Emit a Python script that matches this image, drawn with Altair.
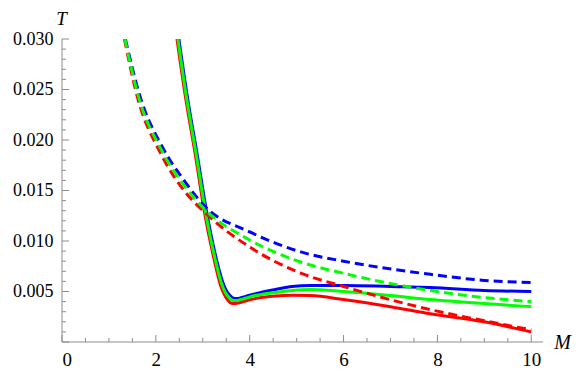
import altair as alt
import pandas as pd

# ---- data ----
M_solid_red = [2.45, 2.64, 2.85, 3.03, 3.24, 3.38, 3.46, 3.54, 3.61, 3.67, 3.75, 3.85, 4.00, 4.15, 4.30, 4.55, 4.90, 5.30, 6.00, 7.00, 7.85, 9.00, 10.0]
T_solid_red = [0.0300, 0.0240, 0.0183, 0.0130, 0.0082, 0.0056, 0.0047, 0.0041, 0.00383, 0.0038, 0.00385, 0.00398, 0.00418, 0.00433, 0.00443, 0.00455, 0.00462, 0.0046, 0.0042, 0.0035, 0.0028, 0.0020, 0.0010]

M_solid_green = [2.47, 2.66, 2.87, 3.05, 3.26, 3.40, 3.48, 3.56, 3.63, 3.69, 3.77, 3.87, 4.00, 4.15, 4.30, 4.55, 4.90, 5.30, 6.00, 7.00, 7.85, 9.00, 10.0]
T_solid_green = [0.0300, 0.0240, 0.0183, 0.0131, 0.0083, 0.0058, 0.0049, 0.0044, 0.00414, 0.0041, 0.00415, 0.00428, 0.00446, 0.00463, 0.00476, 0.0049, 0.0051, 0.0052, 0.0050, 0.0046, 0.0042, 0.0038, 0.0035]

M_solid_blue = [2.49, 2.68, 2.89, 3.07, 3.28, 3.42, 3.50, 3.58, 3.65, 3.72, 3.80, 3.90, 4.00, 4.15, 4.30, 4.55, 4.90, 5.30, 6.00, 7.00, 7.85, 9.00, 10.0]
T_solid_blue = [0.0300, 0.0240, 0.0183, 0.0132, 0.0084, 0.0060, 0.0051, 0.0046, 0.00435, 0.0043, 0.00436, 0.00449, 0.00463, 0.0048, 0.00497, 0.0052, 0.0055, 0.0056, 0.0056, 0.0055, 0.0054, 0.0051, 0.0050]

M_dash_red = [1.33, 1.61, 2.10, 2.60, 3.05, 4.00, 5.10, 6.00, 7.85, 9.00, 10.0]
T_dash_red = [0.0300, 0.0242, 0.0187, 0.0150, 0.0128, 0.0094, 0.0068, 0.0055, 0.0032, 0.0021, 0.0012]

M_dash_green = [1.34, 1.63, 2.12, 2.60, 3.05, 4.00, 5.10, 6.00, 7.85, 9.00, 10.0]
T_dash_green = [0.0300, 0.0243, 0.0190, 0.0155, 0.0131, 0.0101, 0.0079, 0.0068, 0.0051, 0.0044, 0.0040]

M_dash_blue = [1.35, 1.65, 2.15, 2.60, 3.05, 4.00, 5.18, 6.00, 7.85, 9.00, 10.0]
T_dash_blue = [0.0300, 0.0245, 0.0192, 0.0160, 0.0134, 0.0109, 0.0088, 0.0080, 0.0067, 0.0061, 0.0059]

x_major = [0, 2, 4, 6, 8, 10]
x_minor = [0.5, 1, 1.5, 2.5, 3, 3.5, 4.5, 5, 5.5, 6.5, 7, 7.5, 8.5, 9, 9.5]
y_major = [0.0, 0.005, 0.010, 0.015, 0.020, 0.025, 0.030]
y_labels = [0.005, 0.010, 0.015, 0.020, 0.025, 0.030]
y_minor = [0.001, 0.002, 0.003, 0.004, 0.006, 0.007, 0.008, 0.009,
           0.011, 0.012, 0.013, 0.014, 0.016, 0.017, 0.018, 0.019,
           0.021, 0.022, 0.023, 0.024, 0.026, 0.027, 0.028, 0.029]

W, H = 481, 303
AX = "#8c8c8c"
FONT = "Liberation Serif"

xs = alt.Scale(domain=[0, 10.25], nice=False, zero=False)
ys = alt.Scale(domain=[0, 0.030], nice=False, zero=False)

x_axis = alt.Axis(
    values=x_major, format="d", domain=False, ticks=False, grid=False,
    labelFont=FONT, labelFontSize=19, labelColor="black", labelPadding=8,
    title="M", titleFont=FONT, titleFontStyle="italic", titleFontWeight="normal",
    titleFontSize=20, titleColor="black", titleAngle=0, titleAlign="center",
    titleBaseline="middle", titleX=W + 19, titleY=0)
y_axis = alt.Axis(
    values=y_labels, format=".3f", domain=False, ticks=False, grid=False,
    labelFont=FONT, labelFontSize=18, labelColor="black", labelPadding=9,
    title="T", titleFont=FONT, titleFontStyle="italic", titleFontWeight="normal",
    titleFontSize=19, titleColor="black", titleAngle=0, titleAlign="center",
    titleBaseline="middle", titleX=-1, titleY=-21)


def X():
    return alt.X("M:Q", scale=xs, axis=x_axis)


def Y():
    return alt.Y("T:Q", scale=ys, axis=y_axis)


def curve(M, T, color, dashed):
    df = pd.DataFrame({"M": M, "T": T})
    kw = dict(color=color, strokeWidth=3, interpolate="monotone", clip=True)
    if dashed:
        kw["strokeDash"] = [9, 5]
    return alt.Chart(df).mark_line(**kw).encode(x=X(), y=Y())


x_axis_line = alt.Chart(pd.DataFrame({"a": [0]})).mark_rule(color=AX, strokeWidth=1).encode(
    x=alt.value(0), x2=alt.value(W), y=alt.value(H))
y_axis_line = alt.Chart(pd.DataFrame({"a": [0]})).mark_rule(color=AX, strokeWidth=1).encode(
    x=alt.value(0), y=alt.value(0), y2=alt.value(H))

xmaj = alt.Chart(pd.DataFrame({"M": x_major})).mark_rule(color=AX).encode(
    x=X(), y=alt.value(H), y2=alt.value(H - 7))
xmin = alt.Chart(pd.DataFrame({"M": x_minor})).mark_rule(color=AX).encode(
    x=X(), y=alt.value(H), y2=alt.value(H - 4))
ymaj = alt.Chart(pd.DataFrame({"T": y_major})).mark_rule(color=AX).encode(
    y=Y(), x=alt.value(0), x2=alt.value(7))
ymin = alt.Chart(pd.DataFrame({"T": y_minor})).mark_rule(color=AX).encode(
    y=Y(), x=alt.value(0), x2=alt.value(4))

chart = alt.layer(
    x_axis_line, y_axis_line, xmaj, xmin, ymaj, ymin,
    curve(M_solid_red, T_solid_red, "#FF0000", False),
    curve(M_solid_blue, T_solid_blue, "#0000FF", False),
    curve(M_solid_green, T_solid_green, "#00FF00", False),
    curve(M_dash_red, T_dash_red, "#FF0000", True),
    curve(M_dash_blue, T_dash_blue, "#0000FF", True),
    curve(M_dash_green, T_dash_green, "#00FF00", True),
).properties(
    width=W, height=H,
    autosize=alt.AutoSizeParams(type="none"),
    padding={"left": 54, "top": 31, "right": 30, "bottom": 26},
    background="white",
).configure_view(stroke=None)

chart.save("out.html", embed_options={"renderer": "svg", "actions": False})
